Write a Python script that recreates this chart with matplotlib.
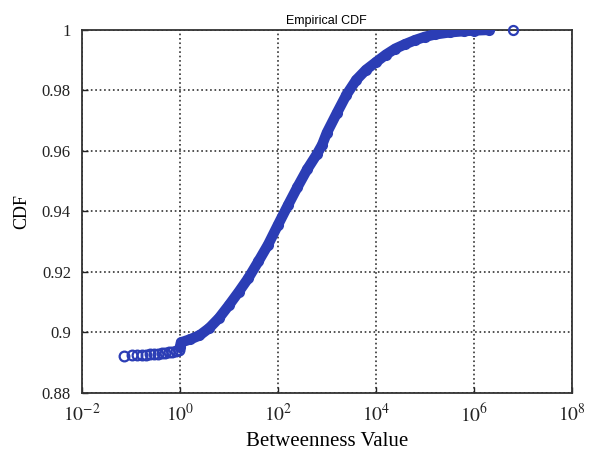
import numpy as np
import matplotlib.pyplot as plt

# lower tail, separate markers
tail_x = [0.072, 0.105, 0.13, 0.17, 0.2, 0.25, 0.3, 0.35, 0.42, 0.5, 0.6, 0.7, 0.83, 0.97]
tail_cdf = [0.8923, 0.8924, 0.8925, 0.8926, 0.8927, 0.8928, 0.8929, 0.8930, 0.8931,
            0.8932, 0.8934, 0.8936, 0.8938, 0.8941]

# main body of the empirical CDF
main_x = [1.0, 1.05, 1.6, 2.5, 4, 6.3, 10, 16, 25, 40, 63, 100, 160, 250, 400, 630, 800,
          1000, 1600, 2500, 4000, 6300, 1e4, 1.6e4, 2.5e4, 4e4, 6.3e4, 1e5, 1.6e5,
          3.2e5, 6.3e5, 1e6, 2e6]
main_cdf = [0.8952, 0.8967, 0.8977, 0.8990, 0.9015, 0.9048, 0.9090, 0.9135, 0.9180,
            0.9235, 0.9290, 0.9355, 0.9420, 0.9480, 0.9540, 0.9590, 0.9620, 0.9660,
            0.9725, 0.9785, 0.9835, 0.9868, 0.9893, 0.9918, 0.9938, 0.9953, 0.9966,
            0.9977, 0.9985, 0.9992, 0.9996, 0.9998, 1.0]

outlier_x = [6.3e6]
outlier_cdf = [1.0]

xticks = [1e-2, 1e0, 1e2, 1e4, 1e6, 1e8]
xtick_labels = ['$10^{-2}$', '$10^{0}$', '$10^{2}$', '$10^{4}$', '$10^{6}$', '$10^{8}$']
yticks = [0.88, 0.9, 0.92, 0.94, 0.96, 0.98, 1.0]
ytick_labels = ['0.88', '0.9', '0.92', '0.94', '0.96', '0.98', '1']

plt.rcParams['mathtext.fontset'] = 'stix'
serif = 'Liberation Serif'
blue = '#2b3db5'

fig = plt.figure(figsize=(5.9, 4.53), dpi=100)
ax = fig.add_axes([0.139, 0.1325, 0.83, 0.8015])

ax.plot(main_x, main_cdf, '-', color=blue, lw=7.5, solid_capstyle='round', zorder=3)
ax.plot(main_x, main_cdf, 'o', color=blue, mfc='none', ms=6.5, mew=1.5, zorder=3)
ax.plot(tail_x, tail_cdf, 'o', color=blue, mfc='none', ms=7, mew=1.6, zorder=3)
ax.plot(outlier_x, outlier_cdf, 'o', color=blue, mfc='none', ms=6.5, mew=1.6, zorder=3,
        clip_on=False)

ax.set_xscale('log')
ax.set_xlim(1e-2, 1e8)
ax.set_ylim(0.88, 1.0)
ax.set_xticks(xticks)
ax.set_xticklabels(xtick_labels, fontsize=14)
ax.minorticks_off()
ax.set_yticks(yticks)
ax.set_yticklabels(ytick_labels, fontsize=12, family=serif)
ax.tick_params(direction='in', length=4, width=1, colors='#222222')
ax.tick_params(axis='x', pad=7)
ax.tick_params(axis='y', pad=8)
ax.grid(True, linestyle=':', color='#333333', linewidth=1.2)
for s in ax.spines.values():
    s.set_linewidth(1.3)
    s.set_color('#333333')

ax.set_xlabel('Betweenness Value', fontsize=15, family=serif, labelpad=5)
ax.set_ylabel('CDF', fontsize=13, family=serif, labelpad=8)
ax.set_title('Empirical CDF', fontsize=9, family='Liberation Sans', pad=4)

fig.savefig('out.png', dpi=100)
